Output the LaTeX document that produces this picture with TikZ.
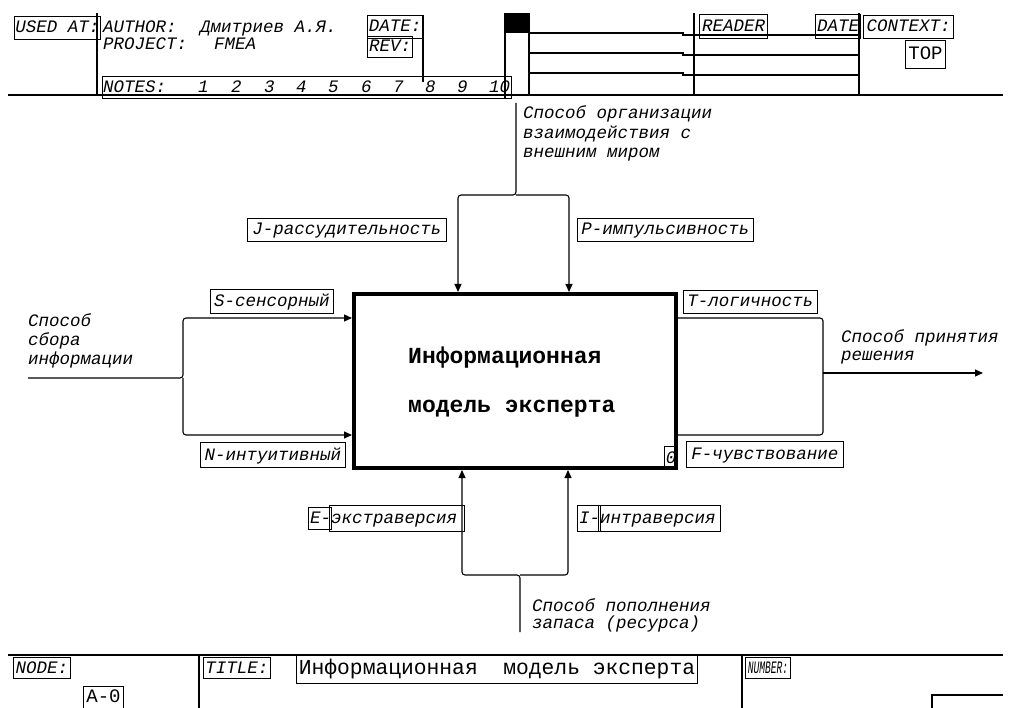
\documentclass[tikz,border=0pt]{standalone}
\usepackage{fontspec}
\newfontfamily\monofam{Liberation Mono}
\usetikzlibrary{arrows.meta}
\newcommand\lab{\monofam\itshape\fontsize{17.5}{20}\selectfont}
\newcommand\labup{\monofam\fontsize{19}{22}\selectfont}
\newcommand\labtitle{\monofam\fontsize{21.3}{24}\selectfont}
\newcommand\labbold{\monofam\bfseries\fontsize{23}{27}\selectfont}
\begin{document}
\begin{tikzpicture}[x=1pt,y=-1pt,
  ln/.style={line width=1.1pt},
  arr/.style={ln, rounded corners=3pt, -{Triangle[length=8pt,width=7pt]}},
  txt/.style={font=\lab, inner sep=0pt, anchor=west, text height=1.1em, text depth=.1em},
  bx/.style={draw, line width=1pt, font=\lab, inner sep=0pt, anchor=north west, text height=1.1em, text depth=.1em},
  mainbox/.style={draw, line width=4pt, minimum width=322pt, minimum height=174pt, inner sep=0pt},
]
\useasboundingbox (0,0) rectangle (1009,708);

% ---------------- header ----------------
\draw[ln] (8,95) -- (1003,95);
\draw[ln] (97,13) -- (97,95);
\draw[ln] (423,15) -- (423,82);
\node[bx, minimum width=86pt, minimum height=23pt] (usedat) at (14,16) {USED AT:};
\node[txt] (author) at (103,28) {AUTHOR:};
\node[txt] (authname) at (200,28) {Дмитриев А.Я.};
\node[txt] (project) at (103,45) {PROJECT:};
\node[txt] (projname) at (214,45) {FMEA};
\node[bx, minimum width=55pt, minimum height=23pt] (date1) at (367,15) {DATE:};
\node[bx, minimum width=45pt, minimum height=21pt] (rev) at (367,36) {REV:};
\node[bx, minimum width=409pt, minimum height=22pt] (notes) at (102,76) {};
\node[txt] (notestxt) at (103,88) {NOTES:};
\foreach \d/\x in {1/198,2/231,3/264,4/296,5/328,6/361,7/393,8/425,9/457,10/489}
  \node[txt] (n\d) at (\x,88) {\d};

\fill (505,13) rectangle (529,33);
\draw[ln] (505,13) -- (505,98);
\draw[ln] (529,13) -- (529,95);
\draw[ln] (694,13) -- (694,95);
\draw[ln] (859,13) -- (859,95);
\foreach \y in {33,53,73}
  \draw[ln] (529,\y) -- (683,\y) -- (683,\y+2) -- (859,\y+2);
\node[bx, minimum width=68pt, minimum height=24pt] (reader) at (699,14) {READER};
\node[bx, minimum width=45pt, minimum height=24pt] (date2) at (815,14) {DATE};
\node[bx, minimum width=90pt, minimum height=23pt] (context) at (863,15) {CONTEXT:};
\node[bx, font=\labup, minimum width=40pt, minimum height=28pt] (top) at (905,40) {TOP};

% ---------------- main box ----------------
\node[mainbox] (A0) at (515,381) {};
\node[bx, anchor=south east, minimum width=13pt, minimum height=23pt] (num0) at (A0.south east) {0};
\node[txt, font=\labbold] (t1) at (408,358) {Информационная};
\node[txt, font=\labbold] (t2) at (408,407) {модель\hspace{14pt}эксперта};

% coordinates
\coordinate (cIn) at (516,103);
\coordinate (cJ) at (516,195);
\coordinate (xJ) at (458,0);
\coordinate (xP) at (569,0);
\coordinate (iIn) at (28,378);
\coordinate (iJ) at (183,378);
\coordinate (yS) at (0,318);
\coordinate (yN) at (0,435);
\coordinate (oJ) at (823,373);
\coordinate (oOut) at (983,373);
\coordinate (mIn) at (520,632);
\coordinate (mJ) at (520,575);
\coordinate (xE) at (462,0);
\coordinate (xI) at (568,0);

% control (top)
\draw[arr] (cIn) -- (cJ) -| (xJ |- A0.north);
\draw[arr] (cJ) -| (xP |- A0.north);
\node[txt] (ctl1) at (523,114) {Способ организации};
\node[txt] (ctl2) at (523,134) {взаимодействия с};
\node[txt] (ctl3) at (523,153) {внешним миром};
\node[bx, minimum width=199pt, minimum height=23pt] (J) at (247,218) {J-рассудительность};
\node[bx, minimum width=176pt, minimum height=23pt] (P) at (577,218) {P-импульсивность};

% input (left)
\draw[arr] (iIn) -- (iJ) |- (A0.west |- yS);
\draw[arr] (iJ) |- (A0.west |- yN);
\node[txt] (in1) at (28,322) {Способ};
\node[txt] (in2) at (28,341) {сбора};
\node[txt] (in3) at (28,360) {информации};
\node[bx, minimum width=123pt, minimum height=24pt] (S) at (210,289) {S-сенсорный};
\node[bx, minimum width=145pt, minimum height=25pt] (N) at (200,442) {N-интуитивный};

% output (right)
\draw[ln, rounded corners=3pt] (A0.east |- yS) -| (oJ);
\draw[ln, rounded corners=3pt] (A0.east |- yN) -| (oJ);
\draw[arr] (oJ) -- (oOut);
\node[txt] (out1) at (841,338) {Способ принятия};
\node[txt] (out2) at (841,355) {решения};
\node[bx, minimum width=134pt, minimum height=23pt] (T) at (683,290) {T-логичность};
\node[bx, minimum width=157pt, minimum height=26pt] (F) at (686,441) {F-чувствование};

% mechanism (bottom)
\draw[arr] (mIn) -- (mJ) -| (xE |- A0.south);
\draw[arr] (mJ) -| (xI |- A0.south);
\node[bx, minimum width=23pt, minimum height=22pt] (Ebox) at (308,507) {};
\node[bx, minimum width=135pt, minimum height=26pt] (Ebig) at (329,505) {};
\node[txt] (E) at (310,518) {E-экстраверсия};
\node[bx, minimum width=23pt, minimum height=26pt] (Ibox) at (577,505) {};
\node[bx, minimum width=122pt, minimum height=26pt] (Ibig) at (598,505) {};
\node[txt] (I) at (579,518) {I-интраверсия};
\node[txt] (m1) at (532,606) {Способ пополнения};
\node[txt] (m2) at (532,623) {запаса (ресурса)};

% ---------------- footer ----------------
\draw[ln] (8,655) -- (1003,655);
\draw[ln] (199,655) -- (199,708);
\draw[ln] (742,655) -- (742,708);
\node[bx, minimum width=57pt, minimum height=21pt] (node) at (13,657) {NODE:};
\node[bx, font=\labup, minimum width=40pt, minimum height=22pt] (a0) at (83,686) {A-0};
\node[bx, minimum width=67pt, minimum height=21pt] (title) at (203,657) {TITLE:};
\node[bx, font=\labtitle, minimum width=401pt, minimum height=28pt] (titletxt) at (296,655) {Информационная\hspace{12.8pt} модель эксперта};
\node[bx, minimum width=45pt, minimum height=21pt] (number) at (745,657) {\scalebox{0.55}[1]{NUMBER:}};
\draw[ln] (932,708) -- (932,695) -- (1003,695);
\end{tikzpicture}
\end{document}
